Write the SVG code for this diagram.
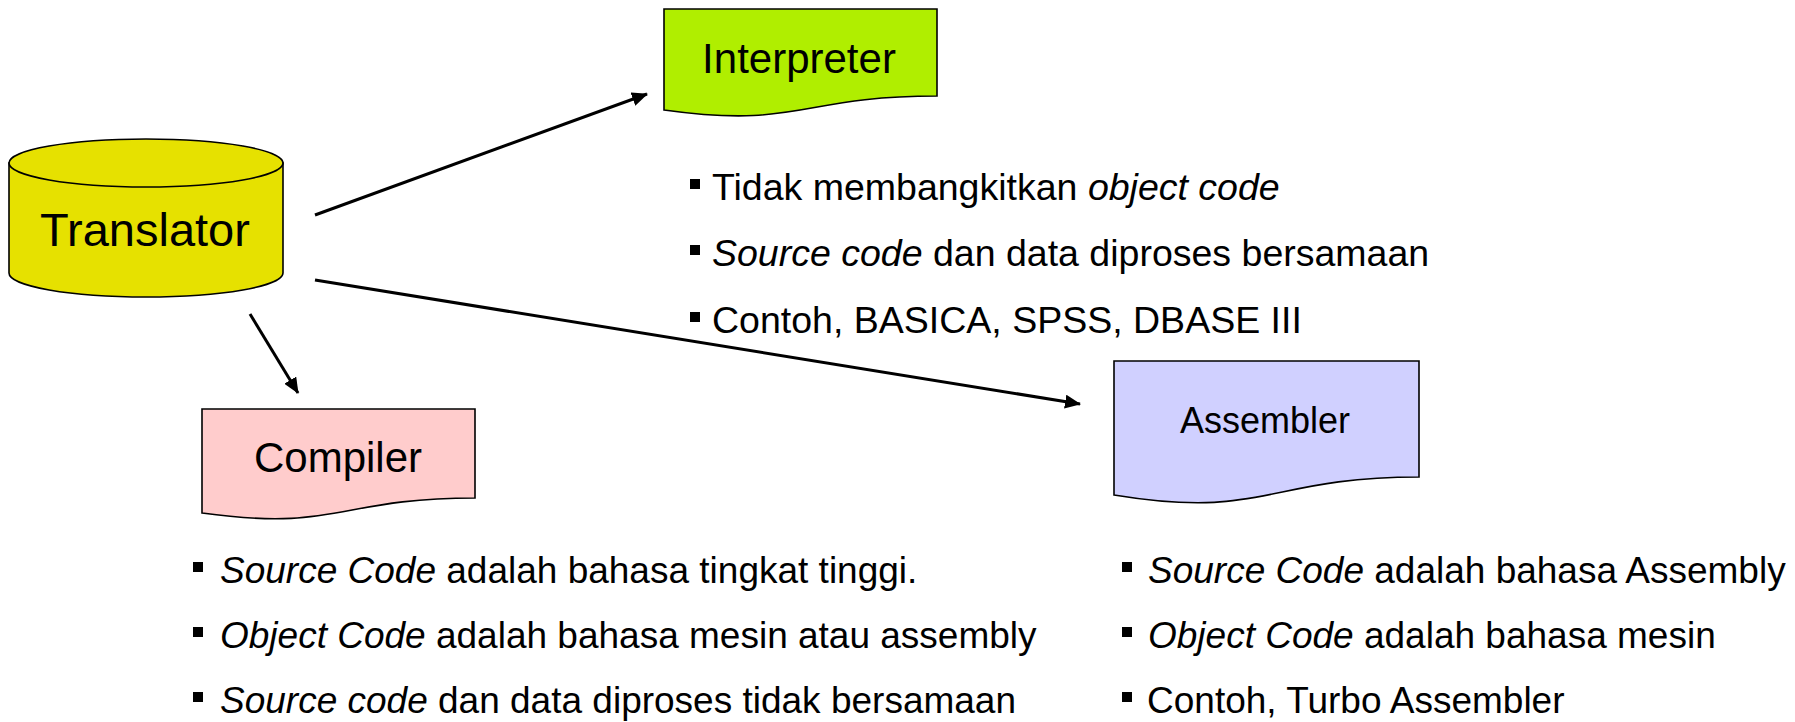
<svg xmlns="http://www.w3.org/2000/svg" width="1795" height="722" viewBox="0 0 1795 722">
  <defs>
    <marker id="arrow" viewBox="0 0 16 14" refX="15" refY="7" markerWidth="16" markerHeight="14" markerUnits="userSpaceOnUse" orient="auto">
      <path d="M0,0 L16,7 L0,14 Z" fill="#000"/>
    </marker>
    <style>
      .shape { stroke: #000; stroke-width: 1.6; }
      .label { font-family: "Liberation Sans", Arial, sans-serif; fill: #000; text-anchor: middle; }
      .bullet { font-family: "Liberation Sans", Arial, sans-serif; fill: #000; }
      .it { font-style: italic; }
      .conn { stroke: #000; stroke-width: 3; fill: none; marker-end: url(#arrow); }
    </style>
  </defs>
  <rect width="1795" height="722" fill="#fff"/>

  <!-- connectors -->
  <g id="connectors">
    <line class="conn" x1="315" y1="215" x2="647" y2="94"/>
    <line class="conn" x1="315" y1="280" x2="1080" y2="404"/>
    <line class="conn" x1="250" y1="314" x2="298" y2="393"/>
  </g>

  <!-- Translator (cylinder) -->
  <g id="translator">
    <path class="shape" fill="#E6E100" d="M9,163 V273 A137,24 0 0 0 283,273 V163 Z"/>
    <ellipse class="shape" fill="#E6E100" cx="146" cy="163" rx="137" ry="24"/>
    <text class="label" x="145" y="246" font-size="47">Translator</text>
  </g>

  <!-- Interpreter (document) -->
  <g id="interpreter">
    <path class="shape" fill="#B0EE00" d="M664,9 H937 V96 C800,96 800,129 664,110 Z"/>
    <text class="label" x="799" y="73" font-size="42">Interpreter</text>
  </g>

  <!-- Compiler (document) -->
  <g id="compiler">
    <path class="shape" fill="#FFCCCC" d="M202,409 H475 V498 C338,498 338,532 202,513 Z"/>
    <text class="label" x="338" y="472" font-size="42">Compiler</text>
  </g>

  <!-- Assembler (document) -->
  <g id="assembler">
    <path class="shape" fill="#D0D0FF" d="M1114,361 H1419 V477 C1266,477 1266,520 1114,495 Z"/>
    <text class="label" x="1265" y="433" font-size="36">Assembler</text>
  </g>

  <!-- Interpreter notes -->
  <g id="interpreter-notes">
    <rect x="690" y="179" width="10" height="10"/>
    <text class="bullet" x="712" y="200" font-size="37.5">Tidak membangkitkan <tspan class="it">object code</tspan></text>
    <rect x="690" y="245" width="10" height="10"/>
    <text class="bullet" x="712" y="266" font-size="37.5"><tspan class="it">Source code</tspan> dan data diproses bersamaan</text>
    <rect x="690" y="312" width="10" height="10"/>
    <text class="bullet" x="712" y="333" font-size="37.5">Contoh, BASICA, SPSS, DBASE III</text>
  </g>

  <!-- Compiler notes -->
  <g id="compiler-notes">
    <rect x="193" y="562" width="10" height="10"/>
    <text class="bullet" x="220" y="583" font-size="37"><tspan class="it">Source Code</tspan> adalah bahasa tingkat tinggi.</text>
    <rect x="193" y="627" width="10" height="10"/>
    <text class="bullet" x="220" y="648" font-size="37"><tspan class="it">Object Code</tspan> adalah bahasa mesin atau assembly</text>
    <rect x="193" y="692" width="10" height="10"/>
    <text class="bullet" x="220" y="713" font-size="37"><tspan class="it">Source code</tspan> dan data diproses tidak bersamaan</text>
  </g>

  <!-- Assembler notes -->
  <g id="assembler-notes">
    <rect x="1122" y="562" width="10" height="10"/>
    <text class="bullet" x="1148" y="583" font-size="37"><tspan class="it">Source Code</tspan> adalah bahasa Assembly</text>
    <rect x="1122" y="627" width="10" height="10"/>
    <text class="bullet" x="1148" y="648" font-size="37"><tspan class="it">Object Code</tspan> adalah bahasa mesin</text>
    <rect x="1122" y="692" width="10" height="10"/>
    <text class="bullet" x="1147" y="713" font-size="37">Contoh, Turbo Assembler</text>
  </g>
</svg>
